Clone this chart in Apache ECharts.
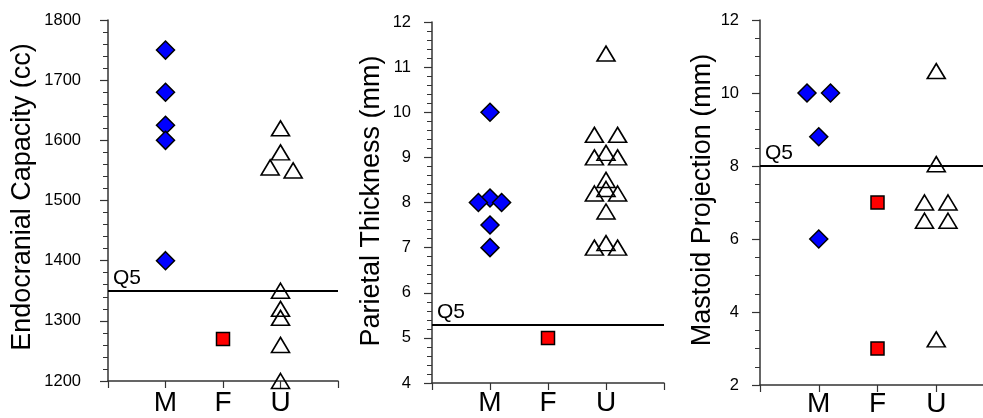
<!DOCTYPE html>
<html>
<head>
<meta charset="utf-8">
<script src="https://cdn.jsdelivr.net/npm/echarts@6/dist/echarts.min.js"></script>
<style>
html,body{margin:0;padding:0;background:#fff;}
#c{width:983px;height:418px;}
</style>
</head>
<body>
<div id="c"></div>
<script>
// ---- categories ----
const groups = ['M', 'F', 'U'];           // positioned at 1, 2, 3 on each x axis

// ---- Panel 1: Endocranial Capacity (cc) ----
const ecTitle = 'Endocranial Capacity (cc)';
const ecM = [1750, 1680, 1625, 1600, 1400];
const ecMJitter = [0, 0, 0, 0, 0];
const ecF = [1270];
const ecFJitter = [0];
const ecU = [1620, 1580, 1555, 1550, 1350, 1320, 1305, 1260, 1200];
const ecUJitter = [0, 0, -0.18, 0.22, 0, 0, 0, 0, 0];
const ecQ5 = 1350;
const ecTicks = [1200, 1800, 100];

// ---- Panel 2: Parietal Thickness (mm) ----
const ptTitle = 'Parietal Thickness (mm)';
const ptM = [10.0, 8.1, 8.0, 8.0, 7.5, 7.0];
const ptMJitter = [0, 0, -0.2, 0.2, 0, 0];
const ptF = [5.0];
const ptFJitter = [0];
const ptU = [11.3, 9.5, 9.5, 9.1, 9.0, 9.0, 8.5, 8.3, 8.2, 8.2, 7.8, 7.1, 7.0, 7.0];
const ptUJitter = [0, -0.2, 0.2, 0, -0.2, 0.2, 0, 0, -0.2, 0.2, 0, 0, -0.2, 0.2];
const ptQ5 = 5.3;
const ptTicks = [4, 12, 1];

// ---- Panel 3: Mastoid Projection (mm) ----
const mpTitle = 'Mastoid Projection (mm)';
const mpM = [10.0, 10.0, 8.8, 6.0];
const mpMJitter = [-0.2, 0.2, 0, 0];
const mpF = [7.0, 3.0];
const mpFJitter = [0, 0];
const mpU = [10.6, 8.05, 7.0, 7.0, 6.5, 6.5, 3.25];
const mpUJitter = [0, 0, -0.2, 0.2, -0.2, 0.2, 0];
const mpQ5 = 8;
const mpTicks = [2, 12, 2];

const qLabel = 'Q5';

const FONT = '"Liberation Sans", Arial, sans-serif';
const AXIS_COLOR = '#333';

const panels = [
  { title: ecTitle, M: ecM, MJ: ecMJitter, F: ecF, FJ: ecFJitter, U: ecU, UJ: ecUJitter, q5: ecQ5, ticks: ecTicks, minorSplit: 5, xMax: 4,
    grid: { left: 108, top: 20, width: 230, height: 361 }, labelMargin: 27, xLabelMargin: 8, titlePos: [23, 197] },
  { title: ptTitle, M: ptM, MJ: ptMJitter, F: ptF, FJ: ptFJitter, U: ptU, UJ: ptUJitter, q5: ptQ5, ticks: ptTicks, minorSplit: 5, xMax: 4,
    grid: { left: 432, top: 22, width: 232, height: 361 }, labelMargin: 21, xLabelMargin: 6, titlePos: [372, 201] },
  { title: mpTitle, M: mpM, MJ: mpMJitter, F: mpF, FJ: mpFJitter, U: mpU, UJ: mpUJitter, q5: mpQ5, ticks: mpTicks, minorSplit: 4, xMax: 4,
    grid: { left: 760, top: 20, width: 235, height: 365 }, labelMargin: 21, xLabelMargin: 5, titlePos: [703, 200] }
];

function pts(vals, jit, gi) {
  return vals.map((v, i) => [gi + 1 + jit[i], v]);
}

const grids = [], xAxes = [], yAxes = [], series = [], graphics = [];
panels.forEach((p, k) => {
  grids.push(Object.assign({ containLabel: false, outerBoundsMode: 'none' }, p.grid));
  xAxes.push({
    type: 'value', gridIndex: k, min: 0, max: p.xMax, interval: 1,
    axisLine: { show: true, onZero: false, lineStyle: { color: AXIS_COLOR, width: 1.5 } },
    axisTick: { show: true, length: 7, lineStyle: { color: AXIS_COLOR, width: 1.2 } },
    splitLine: { show: false },
    axisLabel: {
      show: true, margin: p.xLabelMargin, color: '#000', fontSize: 28, fontFamily: FONT,
      showMinLabel: true, showMaxLabel: true,
      formatter: v => (v >= 1 && v <= 3 && Math.abs(v - Math.round(v)) < 1e-6) ? groups[Math.round(v) - 1] : ''
    }
  });
  yAxes.push({
    type: 'value', gridIndex: k, min: p.ticks[0], max: p.ticks[1], interval: p.ticks[2],
    axisLine: { show: true, lineStyle: { color: AXIS_COLOR, width: 1.5 } },
    axisTick: { show: true, length: 8, lineStyle: { color: AXIS_COLOR, width: 1.2 } },
    minorTick: { show: true, splitNumber: p.minorSplit, length: 5, lineStyle: { color: AXIS_COLOR, width: 1 } },
    splitLine: { show: false },
    axisLabel: { margin: p.labelMargin, color: '#000', fontSize: 16.5, fontFamily: FONT, formatter: v => String(v) }
  });
  series.push({
    type: 'scatter', xAxisIndex: k, yAxisIndex: k, name: 'M',
    data: pts(p.M, p.MJ, 0), symbol: 'diamond', symbolSize: 18,
    itemStyle: { color: '#0000ff', borderColor: '#000', borderWidth: 1.5, opacity: 1 },
    z: 3,
    markLine: {
      silent: true, symbol: 'none', animation: false,
      lineStyle: { color: '#000', width: 2, type: 'solid' },
      label: { show: true, position: 'insideStartTop', formatter: qLabel, color: '#000', fontSize: 21, fontFamily: FONT, distance: [5, 2] },
      data: [{ yAxis: p.q5 }]
    }
  });
  series.push({
    type: 'scatter', xAxisIndex: k, yAxisIndex: k, name: 'F',
    data: pts(p.F, p.FJ, 1), symbol: 'rect', symbolSize: 13,
    itemStyle: { color: '#ff0000', borderColor: '#000', borderWidth: 1.5, opacity: 1 },
    z: 3
  });
  series.push({
    type: 'scatter', xAxisIndex: k, yAxisIndex: k, name: 'U',
    data: pts(p.U, p.UJ, 2), symbol: 'triangle', symbolSize: [18, 15],
    itemStyle: { color: 'rgba(255,255,255,0)', borderColor: '#000', borderWidth: 1.6, opacity: 1 },
    z: 3
  });
  graphics.push({
    type: 'text', x: p.titlePos[0], y: p.titlePos[1], rotation: Math.PI / 2,
    style: { text: p.title, fill: '#000', font: '27px ' + FONT, align: 'center', verticalAlign: 'middle', textAlign: 'center', textVerticalAlign: 'middle' }
  });
});

const chart = echarts.init(document.getElementById('c'), null, { renderer: 'canvas' });
chart.setOption({
  animation: false,
  backgroundColor: '#fff',
  grid: grids, xAxis: xAxes, yAxis: yAxes, series: series, graphic: graphics
});
</script>
</body>
</html>
